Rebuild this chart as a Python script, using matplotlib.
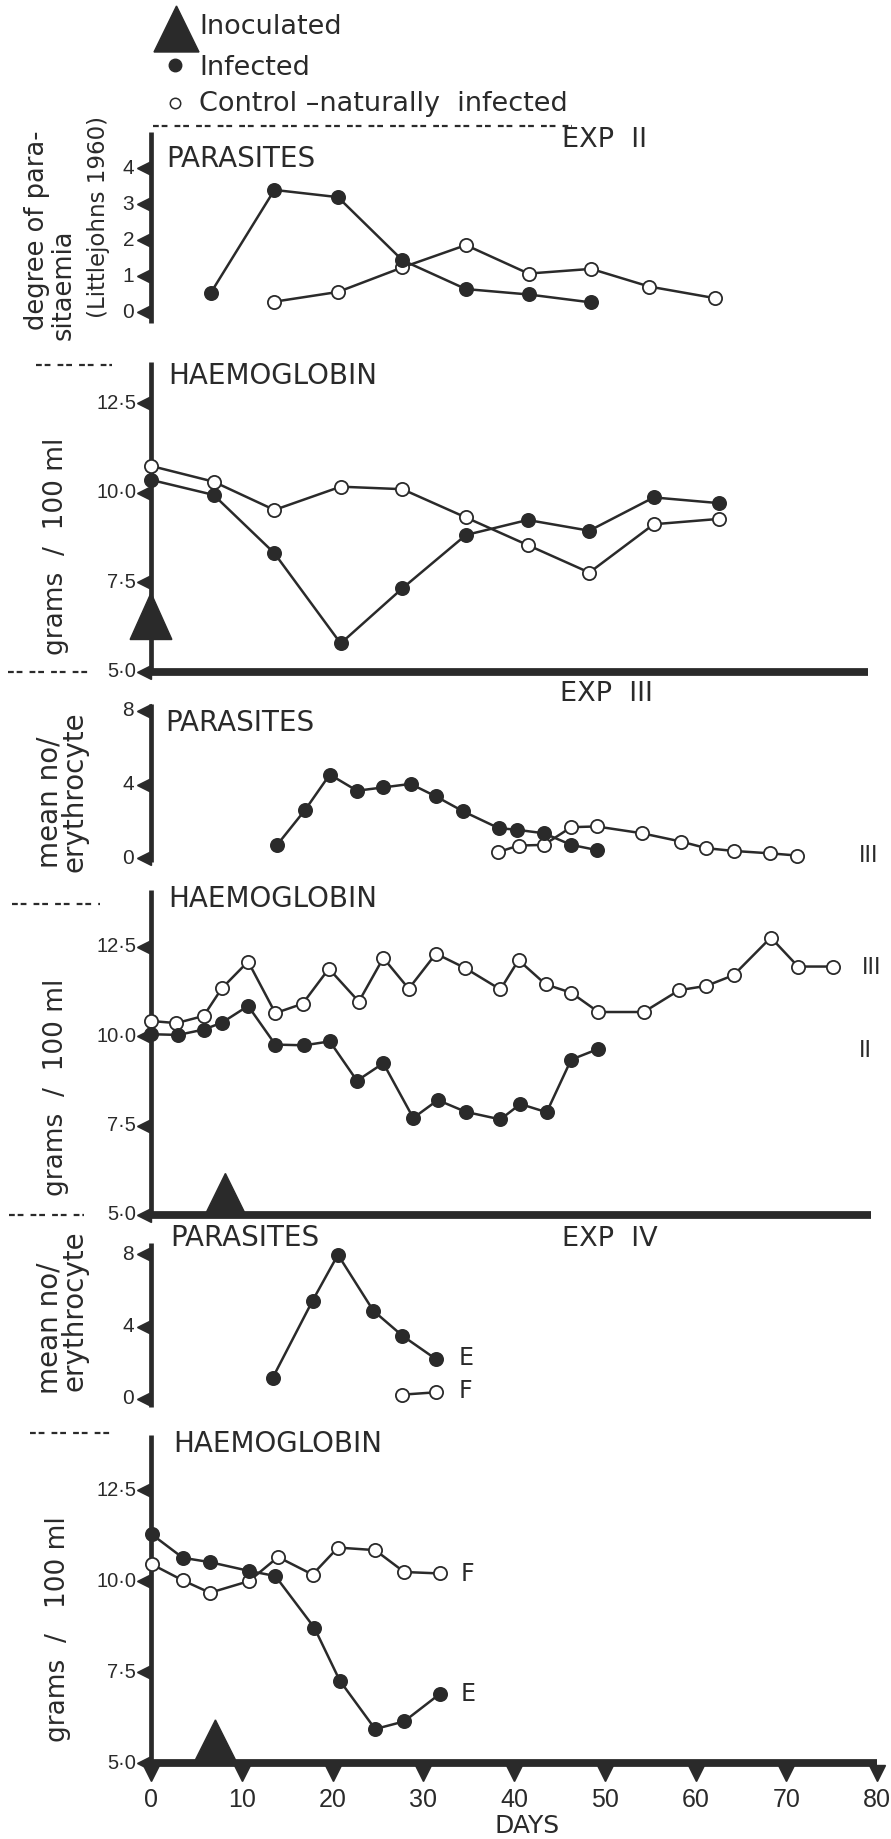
import matplotlib
matplotlib.use("Agg")
import matplotlib.pyplot as plt
from matplotlib.lines import Line2D
from matplotlib.patches import Polygon
from matplotlib.transforms import offset_copy

W, H = 891, 1839
INK = "#2a2a2a"
SANS = ["DejaVu Sans"]
NARROW = ["Liberation Sans Narrow", "Liberation Sans", "DejaVu Sans"]

# ---------------- data ----------------
# Experiment II
exp2_par_inf_day = [6.6, 13.6, 20.6, 27.7, 34.7, 41.6, 48.5]
exp2_par_inf = [0.55, 3.40, 3.20, 1.45, 0.65, 0.50, 0.28]
exp2_par_ctl_day = [13.6, 20.6, 27.7, 34.7, 41.6, 48.5, 54.9, 62.1]
exp2_par_ctl = [0.30, 0.57, 1.25, 1.87, 1.08, 1.21, 0.72, 0.40]
exp2_hb_day = [0, 6.9, 13.6, 20.9, 27.7, 34.7, 41.5, 48.3, 55.4, 62.6]
exp2_hb_inf = [10.36, 9.94, 8.31, 5.79, 7.33, 8.82, 9.24, 8.94, 9.87, 9.71]
exp2_hb_ctl = [10.75, 10.31, 9.52, 10.17, 10.10, 9.31, 8.54, 7.77, 9.12, 9.27]
exp2_inoc_day = 0

# Experiment III
exp3_par_inf_day = [13.9, 17.0, 19.7, 22.7, 25.6, 28.6, 31.4, 34.4, 38.3, 40.3, 43.3, 46.3, 49.1]
exp3_par_inf = [0.73, 2.64, 4.55, 3.67, 3.85, 4.04, 3.36, 2.55, 1.64, 1.55, 1.36, 0.73, 0.45]
exp3_par_ctl_day = [38.2, 40.5, 43.3, 46.3, 49.1, 54.1, 58.4, 61.2, 64.2, 68.2, 71.2]
exp3_par_ctl = [0.33, 0.69, 0.73, 1.69, 1.73, 1.36, 0.91, 0.55, 0.40, 0.27, 0.15]
exp3_hb_ctl_day = [0, 2.8, 5.8, 7.8, 10.7, 13.7, 16.7, 19.6, 22.9, 25.6, 28.4, 31.4, 34.6,
                   38.5, 40.5, 43.5, 46.3, 49.3, 54.3, 58.2, 61.2, 64.2, 68.3, 71.3, 75.1]
exp3_hb_ctl = [10.42, 10.36, 10.56, 11.33, 12.08, 10.64, 10.90, 11.88, 10.96, 12.18, 11.32, 12.30,
               11.90, 11.30, 12.12, 11.44, 11.21, 10.67, 10.67, 11.28, 11.40, 11.70, 12.75, 11.94, 11.94]
exp3_hb_inf_day = [0, 3.0, 5.8, 7.8, 10.7, 13.7, 16.9, 19.7, 22.7, 25.6, 28.9, 31.6, 34.7,
                   38.5, 40.7, 43.6, 46.3, 49.3]
exp3_hb_inf = [10.05, 10.03, 10.18, 10.37, 10.84, 9.76, 9.74, 9.85, 8.75, 9.24, 7.71, 8.21, 7.88,
               7.67, 8.10, 7.87, 9.34, 9.64]
exp3_inoc_day = 8.2

# Experiment IV
exp4_par_inf_day = [13.4, 17.8, 20.6, 24.5, 27.7, 31.4]
exp4_par_inf = [1.16, 5.42, 7.96, 4.87, 3.49, 2.20]
exp4_par_ctl_day = [27.7, 31.4]
exp4_par_ctl = [0.24, 0.37]
exp4_hb_day = [0.1, 3.5, 6.5, 10.8, 13.7, 18.0, 20.8, 24.7, 27.9, 31.8]
exp4_hb_inf = [11.28, 10.64, 10.52, 10.28, 10.14, 8.72, 7.27, 5.94, 6.15, 6.90]
exp4_hb_ctl_day = [0.1, 3.5, 6.5, 10.8, 14.0, 17.8, 20.6, 24.7, 27.9, 31.8]
exp4_hb_ctl = [10.46, 10.02, 9.68, 10.00, 10.66, 10.18, 10.92, 10.85, 10.25, 10.21]
exp4_inoc_day = 7.1

par2_ticks = [0, 1, 2, 3, 4]
par_ticks = [0, 4, 8]
hb_ticks = [5.0, 7.5, 10.0, 12.5]
hb_labels = ["5·0", "7·5", "10·0", "12·5"]
day_ticks = [0, 10, 20, 30, 40, 50, 60, 70, 80]

# ---------------- figure ----------------
fig = plt.figure(figsize=(W / 100, H / 100), dpi=100)
fig.patch.set_facecolor("white")

X0, X80 = 151.0, 877.0  # pixel columns of day 0 and day 80


def fx(x):
    return x / W


def fy(y):
    return 1 - y / H


def make_ax(ref_a, ref_b, ylim):
    (va, pa), (vb, pb) = ref_a, ref_b
    s = (pb - pa) / (va - vb)
    lo, hi = ylim
    top = pa - (hi - va) * s
    bot = pa + (va - lo) * s
    ax = fig.add_axes([fx(X0), fy(bot), (X80 - X0) / W, (bot - top) / H])
    ax.set_xlim(0, 80)
    ax.set_ylim(lo, hi)
    ax.axis("off")
    return ax


def ftext(x, y, s, **kw):
    kw.setdefault("color", INK)
    fig.text(fx(x), fy(y), s, **kw)


def vtext(x, y, s, size):
    # rotated label, starting at pixel (x, y) and running upward
    fig.text(fx(x), fy(y), s, rotation=90, rotation_mode="anchor", ha="left",
             va="center", fontsize=size, color=INK, family=SANS)


def dashes(x1, x2, y, lw=1.6):
    fig.add_artist(Line2D([fx(x1), fx(x2)], [fy(y), fy(y)], color=INK, lw=lw,
                          dashes=(2.6, 1.3, 2.6, 3.2)))


def left_axis(ax, v0, v1, ticks, labels, size, lab_off=15):
    ax.plot([0, 0], [v0, v1], color=INK, lw=3.4, solid_capstyle="butt", clip_on=False)
    tr = offset_copy(ax.transData, fig=fig, x=-7, y=0, units="dots")
    ax.plot([0] * len(ticks), ticks, "<", ms=10.5, color=INK, transform=tr, clip_on=False)
    trl = offset_copy(ax.transData, fig=fig, x=-lab_off, y=0, units="dots")
    for t, l in zip(ticks, labels):
        ax.text(0, t, l, transform=trl, ha="right", va="center", fontsize=size,
                color=INK, family=NARROW)


def series(ax, days, vals, filled):
    ax.plot(days, vals, "-o", color=INK, lw=1.8, ms=9.5,
            mfc=INK if filled else "white", mec=INK, mew=1.3,
            clip_on=False, zorder=3 if filled else 2)


def inoculation(ax, day, base, height, half=2.3):
    ax.add_patch(Polygon([[day - half, base], [day + half, base], [day, base + height]],
                         closed=True, color=INK, clip_on=False, zorder=4))


def base_line(ax, x_end=79.3):
    ax.plot([0, x_end], [5, 5], color=INK, lw=5.6, solid_capstyle="butt", clip_on=False)


# ---------------- legend ----------------
fig.add_artist(Polygon([[fx(154), fy(52)], [fx(199), fy(52)], [fx(176.5), fy(6)]],
                       closed=True, color=INK, transform=fig.transFigure))
fig.add_artist(Line2D([fx(175)], [fy(65)], marker="o", ms=9, color=INK, mfc=INK))
fig.add_artist(Line2D([fx(175)], [fy(103)], marker="o", ms=7.5, color=INK, mfc="white", mew=1.1))
ftext(199, 27, "Inoculated", fontsize=19.5, va="center", family=SANS)
ftext(199, 68, "Infected", fontsize=19.5, va="center", family=SANS)
ftext(199, 104, "Control –naturally  infected", fontsize=19.5, va="center", family=SANS)

# ---------------- EXP II parasites ----------------
ax1 = make_ax((4, 168.3), (0, 312.5), (-0.5, 5.2))
left_axis(ax1, -0.3, 5.02, par2_ticks, [str(t) for t in par2_ticks], 15, lab_off=17)
series(ax1, exp2_par_ctl_day, exp2_par_ctl, False)
series(ax1, exp2_par_inf_day, exp2_par_inf, True)
dashes(153, 572, 126)
ftext(166, 159, "PARASITES", fontsize=20, va="center", family=SANS)
ftext(562, 140, "EXP  II", fontsize=19.5, va="center", family=SANS)
vtext(37, 330, "degree of para-", 18.5)
vtext(64, 340, "sitaemia", 18.5)
vtext(99, 318, "(Littlejohns 1960)", 16.5)

# ---------------- EXP II haemoglobin ----------------
ax2 = make_ax((12.5, 403.3), (5, 671.7), (4.6, 13.8))
base_line(ax2, 79.0)
left_axis(ax2, 5, 13.66, hb_ticks, hb_labels, 14.5)
inoculation(ax2, exp2_inoc_day, 5.9, 1.3)
series(ax2, exp2_hb_day, exp2_hb_inf, True)
series(ax2, exp2_hb_day, exp2_hb_ctl, False)
dashes(36, 112, 365)
dashes(8, 90, 672)
ftext(168, 376, "HAEMOGLOBIN", fontsize=20, va="center", family=SANS)
vtext(56, 655, "grams  /  100 ml", 19)

# ---------------- EXP III parasites ----------------
ax3 = make_ax((8, 711), (0, 858.3), (-0.6, 9.4))
left_axis(ax3, -0.2, 8.4, par_ticks, [str(t) for t in par_ticks], 15, lab_off=17)
series(ax3, exp3_par_ctl_day, exp3_par_ctl, False)
series(ax3, exp3_par_inf_day, exp3_par_inf, True)
ax3.text(78.0, 0.15, "III", fontsize=17, va="center", ha="left", color=INK, family=NARROW)
ftext(165, 723, "PARASITES", fontsize=20, va="center", family=SANS)
ftext(560, 694, "EXP  III", fontsize=19.5, va="center", family=SANS)
vtext(49, 868, "mean no/", 20)
vtext(74, 872, "erythrocyte", 20)

# ---------------- EXP III haemoglobin ----------------
ax4 = make_ax((12.5, 946.5), (5, 1215), (4.6, 14.2))
base_line(ax4, 79.3)
left_axis(ax4, 5, 14.08, hb_ticks, hb_labels, 14.5)
inoculation(ax4, exp3_inoc_day, 5.0, 1.16, half=2.25)
series(ax4, exp3_hb_ctl_day, exp3_hb_ctl, False)
series(ax4, exp3_hb_inf_day, exp3_hb_inf, True)
ax4.text(78.3, 11.9, "III", fontsize=17, va="center", ha="left", color=INK, family=NARROW)
ax4.text(78.0, 9.57, "II", fontsize=17, va="center", ha="left", color=INK, family=NARROW)
dashes(12, 100, 904)
dashes(9, 84, 1215)
ftext(168, 899, "HAEMOGLOBIN", fontsize=20, va="center", family=SANS)
vtext(56, 1196, "grams  /  100 ml", 19)

# ---------------- EXP IV parasites ----------------
ax5 = make_ax((8, 1254), (0, 1399), (-0.6, 9.2))
left_axis(ax5, -0.45, 8.6, par_ticks, [str(t) for t in par_ticks], 15, lab_off=17)
series(ax5, exp4_par_ctl_day, exp4_par_ctl, False)
series(ax5, exp4_par_inf_day, exp4_par_inf, True)
ax5.text(33.9, 2.25, "E", fontsize=17, va="center", ha="left", color=INK, family=SANS)
ax5.text(33.9, 0.45, "F", fontsize=17, va="center", ha="left", color=INK, family=SANS)
ftext(170, 1238, "PARASITES", fontsize=20, va="center", family=SANS)
ftext(562, 1239, "EXP  IV", fontsize=19.5, va="center", family=SANS)
vtext(49, 1394, "mean no/", 20)
vtext(74, 1391, "erythrocyte", 20)

# ---------------- EXP IV haemoglobin ----------------
ax6 = make_ax((12.5, 1490), (5, 1763.3), (4.6, 14.1))
base_line(ax6, 80.0)
left_axis(ax6, 5, 14.02, hb_ticks, hb_labels, 14.5)
inoculation(ax6, exp4_inoc_day, 5.0, 1.19, half=2.4)
series(ax6, exp4_hb_ctl_day, exp4_hb_ctl, False)
series(ax6, exp4_hb_day, exp4_hb_inf, True)
ax6.text(34.1, 10.2, "F", fontsize=17, va="center", ha="left", color=INK, family=SANS)
ax6.text(34.1, 6.9, "E", fontsize=17, va="center", ha="left", color=INK, family=SANS)
dashes(30, 114, 1433)
ftext(173, 1444, "HAEMOGLOBIN", fontsize=20, va="center", family=SANS)
vtext(58, 1742, "grams  /   100 ml", 19)

# day axis
trv = offset_copy(ax6.transData, fig=fig, x=0, y=-10, units="dots")
ax6.plot(day_ticks, [5] * len(day_ticks), "v", ms=12, color=INK, transform=trv, clip_on=False)
trt = offset_copy(ax6.transData, fig=fig, x=0, y=-37, units="dots")
for d in day_ticks:
    ax6.text(d, 5, str(d), transform=trt, ha="center", va="center", fontsize=18,
             color=INK, family=NARROW)
ftext(527, 1826, "DAYS", fontsize=18, ha="center", va="center", family=SANS)

fig.savefig("out.png", dpi=100, facecolor="white")
